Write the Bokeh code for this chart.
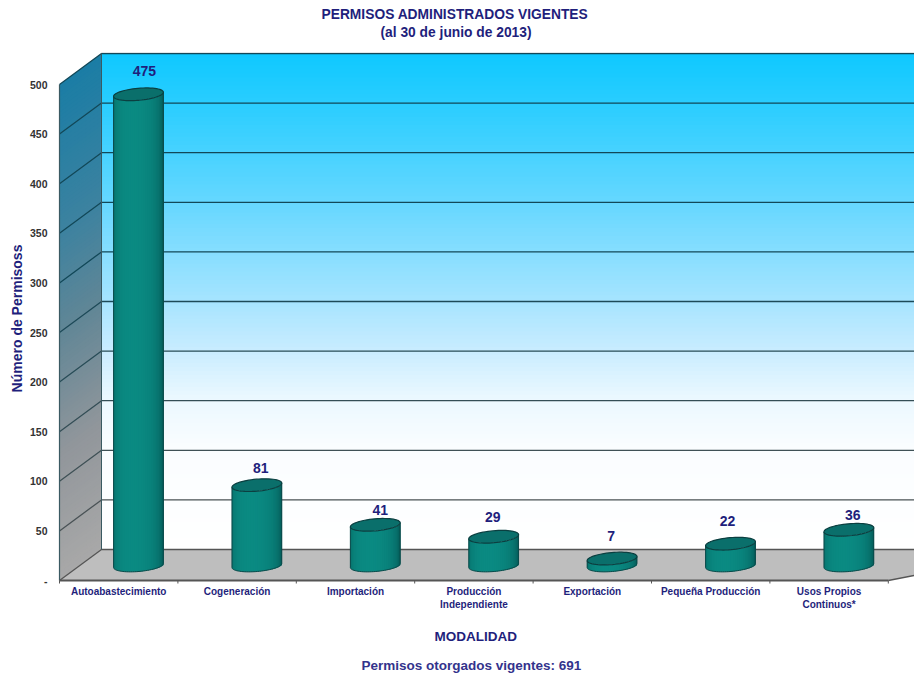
import math
from bokeh.plotting import figure
from bokeh.embed import file_html
from bokeh.resources import INLINE
from bokeh.models import Range1d, FixedTicker, Title
from bokeh.core.properties import value

categories = ["Autoabastecimiento", "Cogeneración", "Importación", "Producción\nIndependiente",
              "Exportación", "Pequeña Producción", "Usos Propios\nContinuos*"]
permisos = [475, 81, 41, 29, 7, 22, 36]
y_ticks = [0, 50, 100, 150, 200, 250, 300, 350, 400, 450, 500]

PX_X = 118.4      # pixels per category
PX_Y = 0.992      # pixels per permit
NAVY = "#1f1f7c"
FONT = "Liberation Sans"
WDX = 42 / PX_X   # depth of the 3D box
WDY = 31 / PX_Y

p = figure(width=914, height=675, output_backend="svg", toolbar_location=None,
           x_range=Range1d(-3 / PX_X, 855 / PX_X), y_range=Range1d(-4 / PX_Y, 528 / PX_Y),
           min_border_left=56, min_border_right=0, min_border_top=52, min_border_bottom=91,
           background_fill_color="white", border_fill_color="white", outline_line_color=None)
p.grid.visible = False
p.title = None


def mix(a, b, t):
    return "#%02x%02x%02x" % tuple(int(round(a[i] + (b[i] - a[i]) * t)) for i in range(3))


def ramp(stops, t):
    for (t0, c0), (t1, c1) in zip(stops, stops[1:]):
        if t <= t1:
            return mix(c0, c1, (t - t0) / (t1 - t0))
    return mix(stops[-1][1], stops[-1][1], 0)


# back wall gradient (0 = top of the wall, 1 = floor)
back_stops = [(0, (14, 200, 255)), (0.1, (40, 205, 255)), (0.3, (100, 215, 255)), (0.5, (165, 228, 255)),
              (0.6, (200, 236, 255)), (0.7, (235, 248, 255)), (0.8, (250, 253, 255)), (1, (255, 255, 255))]
N = 125
top_v = y_ticks[-1]
for i in range(N):
    v0, v1 = top_v * i / N, top_v * (i + 1.3) / N
    p.quad(left=WDX, right=855 / PX_X, bottom=WDY + v0, top=WDY + min(v1, top_v),
           fill_color=ramp(back_stops, 1 - i / N), line_color=None)

# left wall gradient
side_stops = [(0, (26, 125, 165)), (0.3, (60, 130, 160)), (0.5, (96, 134, 150)), (0.75, (145, 150, 155)),
              (1, (168, 168, 168))]
for i in range(N):
    v0, v1 = top_v * i / N, top_v * (i + 1.3) / N
    v1 = min(v1, top_v)
    p.patch([0, WDX, WDX, 0], [v0, v0 + WDY, v1 + WDY, v1],
            fill_color=ramp(side_stops, 1 - i / N), line_color=None)

# floor
n_cat = len(categories)
p.patch([0, WDX, n_cat + WDX + 1, n_cat], [0, WDY, WDY, 0], fill_color="#bebebe", line_color=None)

# grid lines and box edges
grid_low, grid_high = (85, 85, 85), (18, 72, 88)
for t in y_ticks:
    col = mix(grid_low, grid_high, min(1, t / 300))
    p.line([0, WDX, 855 / PX_X], [t, t + WDY, t + WDY], line_color=col, line_width=1.3)
p.line([0, 0], [0, top_v], line_color="#3a5a62", line_width=1.2)
p.line([WDX, WDX], [WDY, top_v + WDY], line_color="#3a5a62", line_width=1)
p.line([0, n_cat], [0, 0], line_color="#555555", line_width=2)
p.line([n_cat, n_cat + WDX + 1], [0, WDY], line_color="#555555", line_width=1.5)
for k in range(n_cat + 1):
    p.line([k, k], [-3 / PX_Y, 0], line_color="#555555", line_width=1)

# cylinders
A, B, TILT = 25.0, 6.0, math.radians(5)
side_a, side_b = (4, 76, 76), (10, 138, 130)


def ell(cx_px, cy_px, t):
    ex, ey = A * math.cos(t), B * math.sin(t)
    return (cx_px + ex * math.cos(TILT) - ey * math.sin(TILT),
            cy_px + ex * math.sin(TILT) + ey * math.cos(TILT))


STEPS = 36
for i, val in enumerate(permisos):
    cx = (i + 0.667) * PX_X
    base = 15.0
    top = base + val * PX_Y
    lows = [ell(cx, base, -math.pi + math.pi * j / STEPS) for j in range(STEPS + 1)]
    for j in range(STEPS):
        (x0, y0), (x1, y1) = lows[j], lows[j + 1]
        s = (j + 0.5) / STEPS
        t = abs(s - 0.42) / 0.58
        col = mix(side_b, side_a, t ** 2.2)
        # each strip overlaps the next one so no seams show
        xe = min(x1 + 1.5, lows[-1][0])
        p.patch([x0 / PX_X, xe / PX_X, xe / PX_X, x0 / PX_X],
                [y0 / PX_Y, y1 / PX_Y, (y1 + val * PX_Y) / PX_Y, (y0 + val * PX_Y) / PX_Y],
                fill_color=col, line_color=None)
    # outline of the body
    xs = [q[0] / PX_X for q in lows]
    ys = [q[1] / PX_Y for q in lows]
    p.line(xs, ys, line_color="#0b4a4a", line_width=1)
    p.line([xs[0], xs[0]], [ys[0], ys[0] + val], line_color="#0b4a4a", line_width=1)
    p.line([xs[-1], xs[-1]], [ys[-1], ys[-1] + val], line_color="#0b4a4a", line_width=1)
    # top cap
    cap = [ell(cx, top, 2 * math.pi * j / 60) for j in range(60)]
    p.patch([q[0] / PX_X for q in cap], [q[1] / PX_Y for q in cap],
            fill_color="#0a6f6b", line_color="#0b3f40", line_width=1.2)

# value labels
label_dx = [6, 4, 5, -1, -1, -3, 4]
label_dy = [23, 17, 15, 20, 23, 23, 15]
for i, val in enumerate(permisos):
    p.text([i + 0.667 + label_dx[i] / PX_X], [(15 + val * PX_Y + label_dy[i]) / PX_Y], text=[str(val)],
           text_color=NAVY, text_font=value(FONT), text_font_style="bold", text_font_size="14px",
           text_align="center", text_baseline="middle")

# axes
yax = p.yaxis[0]
yax.ticker = FixedTicker(ticks=y_ticks)
yax.major_label_overrides = {0: "-"}
yax.axis_line_color = None
yax.major_tick_line_color = None
yax.minor_tick_line_color = None
yax.major_tick_out = 0
yax.major_label_standoff = 9
yax.major_label_text_font = FONT
yax.major_label_text_font_size = "10.5px"
yax.major_label_text_font_style = "bold"
yax.major_label_text_color = "#333333"
yax.axis_label = "Número de Permisoss"
yax.axis_label_text_font = FONT
yax.axis_label_text_font_size = "14px"
yax.axis_label_text_font_style = "bold"
yax.axis_label_text_color = NAVY
yax.axis_label_standoff = 2

xax = p.xaxis[0]
ticks = [i + 0.5 for i in range(n_cat)]
xax.ticker = FixedTicker(ticks=ticks)
xax.major_label_overrides = {t: c for t, c in zip(ticks, categories)}
xax.axis_line_color = None
xax.major_tick_line_color = None
xax.minor_tick_line_color = None
xax.major_tick_out = 0
xax.major_label_standoff = 1
xax.major_label_text_font = FONT
xax.major_label_text_font_size = "10px"
xax.major_label_text_font_style = "bold"
xax.major_label_text_color = NAVY


def caption(text, side, offset, size, standoff, valign, color=NAVY):
    p.add_layout(Title(text=text, align="left", offset=offset, standoff=standoff, vertical_align=valign,
                       text_font=FONT, text_font_size=size, text_font_style="bold", text_color=color), side)


caption("(al 30 de junio de 2013)", "above", 324, "13.8px", 21, "top")
caption("PERMISOS ADMINISTRADOS VIGENTES", "above", 265, "13.8px", -16, "middle")
caption("MODALIDAD", "below", 378, "13.5px", 29, "bottom")
caption("Permisos otorgados vigentes: 691", "below", 305, "13.5px", -5, "bottom", "#33338c")

open("out.html", "w").write(file_html(p, INLINE))
